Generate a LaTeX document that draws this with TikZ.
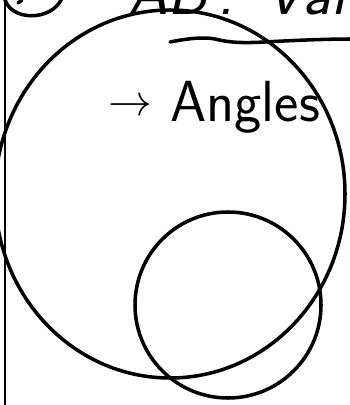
\documentclass[tikz,border=0pt]{standalone}
\usepackage{tikz}
\usepackage{xcolor}
\definecolor{ink}{HTML}{000000}

\begin{document}
\begin{tikzpicture}[x=0.02cm, y=-0.02cm,
      pen/.style={draw=ink, line width=2pt, line cap=round, line join=round},
      thinpen/.style={draw=ink, line width=1.1pt},
      handtext/.style={font=\sffamily\fontsize{33}{36}\selectfont, text=ink, inner sep=0pt, anchor=base west}]

      % Frame
      \useasboundingbox (0,0) rectangle (350,405);
      \clip (0,0) rectangle (350,405);

      % Margin line
      \draw[thinpen] (5,0) -- (5,405);

      % --- Heading ---
      \draw[pen] (4,-4) .. controls (8,22) and (52,22) .. (62,-2);
      \draw[pen] (18,3) -- (22,0);
      \node[handtext, font=\sffamily\itshape\fontsize{36}{40}\selectfont] (title) at (128,15) {AB\,:\, Val};
      \draw[pen] (170,42) .. controls (190,38) and (205,37) .. (215,39)
                 .. controls (230,43) and (245,43) .. (265,42)
                 .. controls (300,40) and (330,39) .. (352,39);

      % --- Note ---
      \node[handtext, font=\sffamily\fontsize{26}{30}\selectfont] (arrow) at (108,116) {$\rightarrow$};
      \node[handtext] (angles) at (170,122) {Angles};

      % --- Circles ---
      \draw[pen] (170,194) ellipse [x radius=175, y radius=184];
      \draw[pen] (228,305) circle [radius=93];

    \end{tikzpicture}
\end{document}
